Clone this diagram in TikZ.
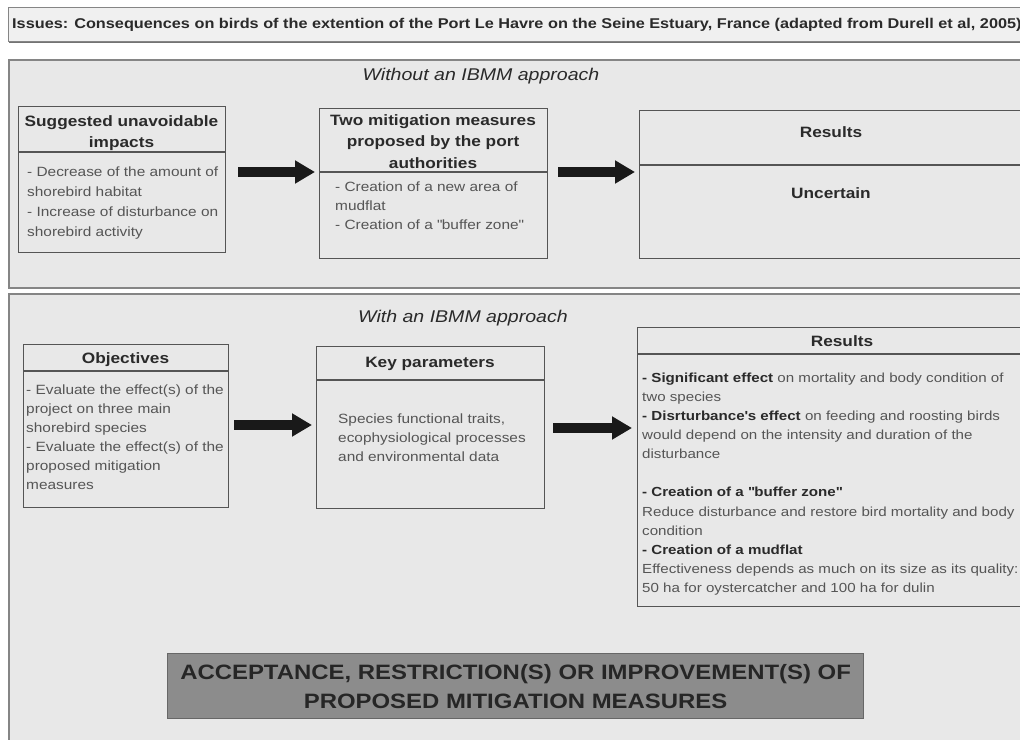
\documentclass[tikz,border=0pt]{standalone}
\usepackage{fontspec}
\setmainfont{Liberation Sans}[FakeStretch=1.15]
\usetikzlibrary{arrows.meta,calc}
\definecolor{panelfill}{HTML}{E8E8E8}
\definecolor{panelline}{HTML}{858585}
\definecolor{boxline}{HTML}{555555}
\definecolor{titletext}{HTML}{2A2A2A}
\definecolor{bodytext}{HTML}{555555}
\definecolor{barfill}{HTML}{F0F0F0}
\definecolor{bannerfill}{HTML}{8C8C8C}
\definecolor{bannerline}{HTML}{676767}
\newcommand\fsz[2]{\fontsize{#1}{#2}\selectfont}
\begin{document}
\begin{tikzpicture}[x=1pt,y=-1pt,
  panel/.style={draw=panelline, fill=panelfill, line width=1.5pt, inner sep=0pt, anchor=north west},
  box/.style={draw=boxline, line width=1.3pt, fill=panelfill, inner sep=0pt, anchor=north west},
  divider/.style={draw=boxline, line width=1.1pt},
  boxtitle/.style={inner sep=0pt, anchor=base, align=center, font=\fsz{15}{21.5}\bfseries, text=titletext},
  bodytxt/.style={inner sep=0pt, anchor=base west, align=left, font=\fsz{13.4}{19.2}, text=bodytext},
  bigarrow/.style={draw=black!90, line width=10pt, -{Triangle[length=20pt,width=22pt]}},
  approach/.style={inner sep=0pt, anchor=base, font=\fsz{17}{20}\itshape, text=titletext}
]
\useasboundingbox (0,0) rectangle (1020,739);
\fill[white] (0,0) rectangle (1020,739);

% title bar
\fill[black!55] (9,9) rectangle (1030,43);
\node[draw=panelline, fill=barfill, line width=1pt, inner sep=0pt, anchor=north west,
      minimum width=1030, minimum height=34] (bar) at (8,7) {};
\node[inner sep=0pt, anchor=base west, font=\fsz{14.15}{16}\bfseries, text=titletext] (title) at (12,28.8)
  {Issues: Consequences on birds of the extention of the Port Le Havre on the Seine Estuary, France (adapted from Durell et al, 2005)};

% panels
\node[panel, minimum width=1030, minimum height=228] (toppanel) at (8,59) {};
\node[panel, minimum width=1030, minimum height=460] (botpanel) at (8,293) {};

\node[approach] (without) at (481,80.5) {Without an IBMM approach};
\node[approach] (with) at (463,322.5) {With an IBMM approach};

% ---- top row (multi-line nodes are placed by the baseline of their last line)
\node[box, minimum width=207, minimum height=146] (imp) at (18,106) {};
\draw[divider] ([yshift=-46pt]imp.north west) -- ([yshift=-46pt]imp.north east);
\node[boxtitle] (impT) at (121.5,147.9) {Suggested unavoidable\\impacts};
\node[bodytxt, font=\fsz{13.4}{20}] (impB) at (27,236.6)
  {- Decrease of the amount of\\shorebird habitat\\- Increase of disturbance on\\shorebird activity};

\node[box, minimum width=228, minimum height=150] (mit) at (319,108) {};
\draw[divider] ([yshift=-64pt]mit.north west) -- ([yshift=-64pt]mit.north east);
\node[boxtitle] (mitT) at (433,168.4) {Two mitigation measures\\proposed by the port\\authorities};
\node[bodytxt, font=\fsz{13.4}{19}] (mitB) at (335,229.4)
  {- Creation of a new area of\\mudflat\\- Creation of a \textquotedbl buffer zone\textquotedbl};

\node[box, minimum width=400, minimum height=148] (res1) at (639,110) {};
\draw[divider] ([yshift=-55pt]res1.north west) -- ([yshift=-55pt]res1.north east);
\node[boxtitle] (res1T) at (831,137.4) {Results};
\node[boxtitle] (res1B) at (831,198.4) {Uncertain};

\coordinate (a1) at (0,172);
\draw[bigarrow] ([xshift=12pt]imp.east |- a1) -- ([xshift=-4pt]mit.west |- a1);
\draw[bigarrow] ([xshift=10pt]mit.east |- a1) -- ([xshift=-4pt]res1.west |- a1);

% ---- bottom row
\node[box, minimum width=205, minimum height=163] (obj) at (23,344) {};
\draw[divider] ([yshift=-27pt]obj.north west) -- ([yshift=-27pt]obj.north east);
\node[boxtitle] (objT) at (125.5,363.4) {Objectives};
\node[bodytxt, font=\fsz{13.4}{19.1}] (objB) at (26,489.9)
  {- Evaluate the effect(s) of the\\project on three main\\shorebird species\\- Evaluate the effect(s) of the\\proposed mitigation\\measures};

\node[box, minimum width=228, minimum height=162] (key) at (316,346) {};
\draw[divider] ([yshift=-34pt]key.north west) -- ([yshift=-34pt]key.north east);
\node[boxtitle] (keyT) at (430,367.4) {Key parameters};
\node[bodytxt, font=\fsz{13.4}{19}] (keyB) at (338,461)
  {Species functional traits,\\ecophysiological processes\\and environmental data};

\node[box, minimum width=410, minimum height=279] (res2) at (637,327) {};
\draw[divider] ([yshift=-27pt]res2.north west) -- ([yshift=-27pt]res2.north east);
\node[boxtitle] (res2T) at (842,346.4) {Results};
\node[bodytxt, font=\fsz{13.15}{19.1}] (res2B) at (642,592.4)
  {{\bfseries\color{titletext}- Significant effect} on mortality and body condition of\\
   two species\\
   {\bfseries\color{titletext}- Disrturbance\textquotesingle s effect} on feeding and roosting birds\\
   would depend on the intensity and duration of the\\
   disturbance\\[19.1pt]
   {\bfseries\color{titletext}- Creation of a \textquotedbl buffer zone\textquotedbl}\\
   Reduce disturbance and restore bird mortality and body\\
   condition\\
   {\bfseries\color{titletext}- Creation of a mudflat}\\
   Effectiveness depends as much on its size as its quality:\\
   50 ha for oystercatcher and 100 ha for dulin};

\coordinate (a3) at (0,425);
\coordinate (a4) at (0,428);
\draw[bigarrow] ([xshift=5pt]obj.east |- a3) -- ([xshift=-4pt]key.west |- a3);
\draw[bigarrow] ([xshift=8pt]key.east |- a4) -- ([xshift=-5pt]res2.west |- a4);

% ---- banner
\node[draw=bannerline, fill=bannerfill, line width=1.2pt, inner sep=0pt, anchor=north west,
      minimum width=696, minimum height=65, align=center,
      font=\fsz{20.8}{29}\bfseries, text=black!85] (banner) at (167,653)
  {ACCEPTANCE, RESTRICTION(S) OR IMPROVEMENT(S) OF\\PROPOSED MITIGATION MEASURES};
\end{tikzpicture}
\end{document}
